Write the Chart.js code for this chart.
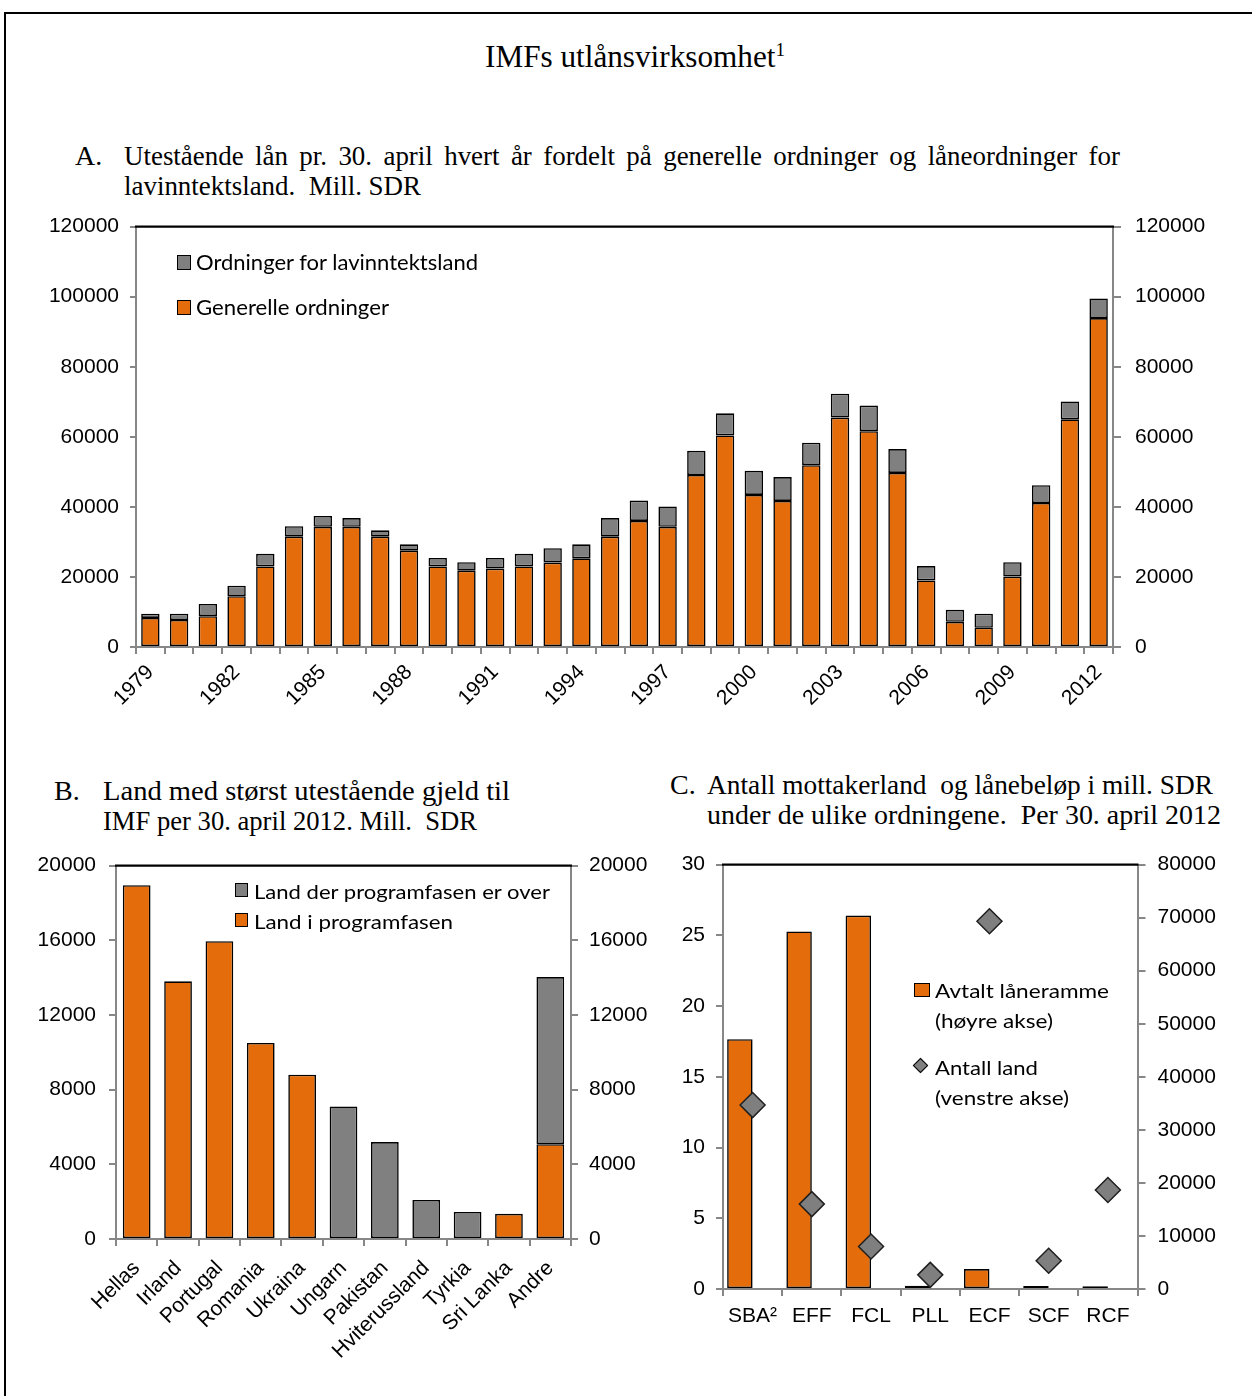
<!DOCTYPE html>
<html><head><meta charset="utf-8">
<script src="https://cdn.jsdelivr.net/npm/chart.js@4.4.1/dist/chart.umd.min.js"></script>
<style>
html,body{margin:0;padding:0;background:#fff;}
body{width:1252px;height:1396px;overflow:hidden;position:relative;}
.frame{position:absolute;left:4px;top:12px;width:1300px;height:1450px;border-left:2px solid #000;border-top:2px solid #000;}
.t{position:absolute;white-space:pre;color:#000;font-family:"Liberation Serif",serif;line-height:1;transform-origin:0 0;}
.lg{position:absolute;white-space:pre;color:#000;font-family:Lato,sans-serif;line-height:1;transform-origin:0 0;}
.sw{position:absolute;box-sizing:border-box;border:1.5px solid #000;}
canvas{position:absolute;}
</style>
</head><body>
<div class="frame"></div>

<!-- main title -->
<div class="t fit" style="left:485px;top:41px;font-size:31px" data-w="300">IMFs utlånsvirksomhet<span style="font-size:19px;position:relative;top:-11px">1</span></div>

<!-- A title -->
<div class="t" style="left:75px;top:142px;font-size:28px">A.</div>
<div class="t" id="a1" style="left:124px;top:142px;font-size:28px;text-align:justify;text-align-last:justify;">Utestående lån pr. 30. april hvert år fordelt på generelle ordninger og låneordninger for</div>
<div class="t fit" id="a2" style="left:124px;top:172px;font-size:28px" data-w="297">lavinntektsland.  Mill. SDR</div>

<!-- B title -->
<div class="t" style="left:54px;top:777px;font-size:28px">B.</div>
<div class="t fit" style="left:103px;top:777px;font-size:28px" data-w="407">Land med størst utestående gjeld til</div>
<div class="t fit" style="left:103px;top:807px;font-size:28px" data-w="374">IMF per 30. april 2012. Mill.  SDR</div>

<!-- C title -->
<div class="t" style="left:670px;top:771px;font-size:28px">C.</div>
<div class="t fit" style="left:707px;top:771px;font-size:28px" data-w="506">Antall mottakerland  og lånebeløp i mill. SDR</div>
<div class="t fit" style="left:707px;top:801px;font-size:28px" data-w="514">under de ulike ordningene.  Per 30. april 2012</div>

<canvas id="cA" width="1252" height="560" style="left:0;top:200px"></canvas>
<canvas id="cB" width="660" height="556" style="left:0;top:840px"></canvas>
<canvas id="cC" width="592" height="556" style="left:660px;top:840px"></canvas>

<!-- legends -->
<div class="sw" style="left:177px;top:255px;width:14px;height:15px;background:#808080"></div>
<div class="lg fit" style="left:196px;top:251px;font-size:22px" data-w="282">Ordninger for lavinntektsland</div>
<div class="sw" style="left:177px;top:300px;width:14px;height:15px;background:#E46C0A"></div>
<div class="lg fit" style="left:196px;top:296px;font-size:22px" data-w="193">Generelle ordninger</div>

<div class="sw" style="left:235px;top:883px;width:13px;height:14px;background:#808080"></div>
<div class="lg fit" style="left:254px;top:881px;font-size:20px" data-w="296">Land der programfasen er over</div>
<div class="sw" style="left:235px;top:913px;width:13px;height:14px;background:#E46C0A"></div>
<div class="lg fit" style="left:254px;top:911px;font-size:20px" data-w="199">Land i programfasen</div>

<div class="sw" style="left:914px;top:983px;width:16px;height:14px;background:#E46C0A"></div>
<div class="lg fit" style="left:935px;top:980px;font-size:20px" data-w="174">Avtalt låneramme</div>
<div class="lg fit" style="left:935px;top:1010px;font-size:20px" data-w="118">(høyre akse)</div>
<div class="sw" style="left:915px;top:1060px;width:11px;height:11px;background:#808080;transform:rotate(45deg)"></div>
<div class="lg fit" style="left:935px;top:1057px;font-size:20px" data-w="103">Antall land</div>
<div class="lg fit" style="left:935px;top:1087px;font-size:20px" data-w="134">(venstre akse)</div>

<script>
// ---------- DATA ----------
const years = ['1979','1980','1981','1982','1983','1984','1985','1986','1987','1988','1989','1990','1991','1992','1993','1994','1995','1996','1997','1998','1999','2000','2001','2002','2003','2004','2005','2006','2007','2008','2009','2010','2011','2012'];
const yearTickLabels = ['1979','1982','1985','1988','1991','1994','1997','2000','2003','2006','2009','2012'];
const generelleOrdninger = [8300,7700,8800,14500,23000,31500,34300,34300,31500,27500,23000,21800,22400,23000,24100,25300,31500,36000,34300,49100,60400,43400,41700,51900,65500,61600,49700,19000,7200,5500,20100,41100,65000,93900];
const lavinntektsland = [1200,1800,3500,3000,3600,3000,3100,2500,1800,1800,2400,2400,3000,3600,4100,4000,5300,5800,5800,6900,6300,6900,6800,6400,6800,7300,6800,4100,3400,4000,4100,5100,5100,5600];

const land = ['Hellas','Irland','Portugal','Romania','Ukraina','Ungarn','Pakistan','Hviterussland','Tyrkia','Sri Lanka','Andre'];
const landIProgramfasen = [18950,13800,15950,10500,8800,null,null,null,null,1350,5080];
const landProgramfasenOver = [null,null,null,null,null,7100,5190,2090,1450,null,8950];

const ordninger = ['SBA²','EFF','FCL','PLL','ECF','SCF','RCF'];
const avtaltLaneramme = [47100,67400,70400,600,3750,550,500];
const antallLand = [13,6,3,1,26,2,7];

// ---------- STYLE ----------
const ORANGE = '#E46C0A', GREY = '#808080', AX = '#878787';
const tickFont = {family:'"Liberation Sans", Arial, sans-serif', size:21};
Chart.defaults.color = '#000';
Chart.defaults.animation = false;
const plainNum = v => String(v);

const topBorder = {id:'topBorder', afterDraw(c){const {ctx,chartArea:a}=c;ctx.save();ctx.strokeStyle='#000';ctx.lineWidth=2.2;ctx.beginPath();ctx.moveTo(a.left-1,a.top);ctx.lineTo(a.right+1,a.top);ctx.stroke();ctx.restore();}};

function yAxis(pos, min, max, step, width, tick, pad, extra){
  return Object.assign({
    position: pos, min, max, beginAtZero:true,
    afterFit: s => { s.width = width; },
    border: {color: AX, width: 2},
    grid: {drawOnChartArea:false, color: AX, lineWidth:2, tickLength: tick},
    ticks: {stepSize: step, font: tickFont, padding: pad, color:'#000', callback: plainNum}
  }, extra||{});
}
function xAxis(height, tick, pad, rot, extra){
  return Object.assign({
    afterFit: s => { s.height = height; },
    border: {color: AX, width: 2},
    grid: {drawOnChartArea:false, offset:true, color: AX, lineWidth:2, tickLength: tick},
    ticks: {font: tickFont, padding: pad, maxRotation: rot, minRotation: rot, autoSkip:false, color:'#000'}
  }, extra||{});
}

// ---------- CHART A ----------
const xA = xAxis(113, 7, 6, 45);
xA.stacked = true;
xA.ticks.callback = function(v){ const l = this.getLabelForValue(v); return yearTickLabels.includes(l) ? l : ''; };
new Chart(document.getElementById('cA'), {
  type:'bar',
  data:{labels: years, datasets:[
    {label:'Generelle ordninger', data: generelleOrdninger, backgroundColor: ORANGE, borderColor:'#000', borderWidth:1.6, borderSkipped:false, barPercentage:0.64, categoryPercentage:1, stack:'s'},
    {label:'Ordninger for lavinntektsland', data: lavinntektsland, backgroundColor: GREY, borderColor:'#000', borderWidth:1.6, borderSkipped:false, barPercentage:0.64, categoryPercentage:1, stack:'s'}
  ]},
  options:{responsive:false, maintainAspectRatio:false,
    layout:{padding:{top:23,left:0,right:0,bottom:0}},
    plugins:{legend:{display:false}, tooltip:{enabled:false}},
    scales:{
      x: xA,
      y: Object.assign(yAxis('left',0,120000,20000,136,6,11),{stacked:true}),
      y2: yAxis('right',0,120000,20000,139,8,14)
    }
  },
  plugins:[topBorder]
});

// ---------- CHART B ----------
const xB = xAxis(157, 7, 10, 45); xB.stacked = true;
new Chart(document.getElementById('cB'), {
  type:'bar',
  data:{labels: land, datasets:[
    {label:'Land i programfasen', data: landIProgramfasen, backgroundColor: ORANGE, borderColor:'#000', borderWidth:1.6, borderSkipped:false, barPercentage:0.67, categoryPercentage:1, stack:'s'},
    {label:'Land der programfasen er over', data: landProgramfasenOver, backgroundColor: GREY, borderColor:'#000', borderWidth:1.6, borderSkipped:false, barPercentage:0.67, categoryPercentage:1, stack:'s'}
  ]},
  options:{responsive:false, maintainAspectRatio:false,
    layout:{padding:{top:24,left:0,right:0,bottom:0}},
    plugins:{legend:{display:false}, tooltip:{enabled:false}},
    scales:{
      x: xB,
      y: Object.assign(yAxis('left',0,20000,4000,116,7,13),{stacked:true}),
      y2: yAxis('right',0,20000,4000,89,7,11)
    }
  },
  plugins:[topBorder]
});

// ---------- CHART C ----------
new Chart(document.getElementById('cC'), {
  type:'bar',
  data:{labels: ordninger, datasets:[
    {type:'line', label:'Antall land', data: antallLand, yAxisID:'y', showLine:false, pointStyle:'rectRot', pointRadius:12.5, pointBackgroundColor:'#7F7F7F', pointBorderColor:'#1f1f1f', pointBorderWidth:1.5, order:0},
    {label:'Avtalt låneramme', data: avtaltLaneramme, yAxisID:'y2', backgroundColor: ORANGE, borderColor:'#000', borderWidth:1.6, borderSkipped:false, barPercentage:1, categoryPercentage:0.86, order:1},
    {label:'', data: ordninger.map(()=>null), yAxisID:'y2', backgroundColor:'rgba(0,0,0,0)', barPercentage:1, categoryPercentage:0.86, order:2}
  ]},
  options:{responsive:false, maintainAspectRatio:false,
    layout:{padding:{top:23,left:0,right:0,bottom:0}},
    plugins:{legend:{display:false}, tooltip:{enabled:false}},
    scales:{
      x: xAxis(107, 7, 8, 0),
      y: yAxis('left',0,30,5,63,7,11),
      y2: yAxis('right',0,80000,10000,114.5,8,12)
    }
  },
  plugins:[topBorder]
});

// ---------- fit text widths ----------
function fitAll(){
  document.querySelectorAll('.fit').forEach(el=>{
    el.style.transform='none';
    const w = el.getBoundingClientRect().width;
    el.style.transform = 'scaleX(' + (parseFloat(el.dataset.w)/w) + ')';
  });
  const a2 = document.getElementById('a2');
  a2.style.transform = 'none';
  const natural = a2.getBoundingClientRect().width;
  const s = parseFloat(a2.dataset.w) / natural;
  a2.style.transform = 'scaleX(' + s + ')';
  const a1 = document.getElementById('a1');
  a1.style.width = (996 / s) + 'px';
  a1.style.whiteSpace = 'normal';
  a1.style.transform = 'scaleX(' + s + ')';
}
fitAll();
</script>
</body></html>
